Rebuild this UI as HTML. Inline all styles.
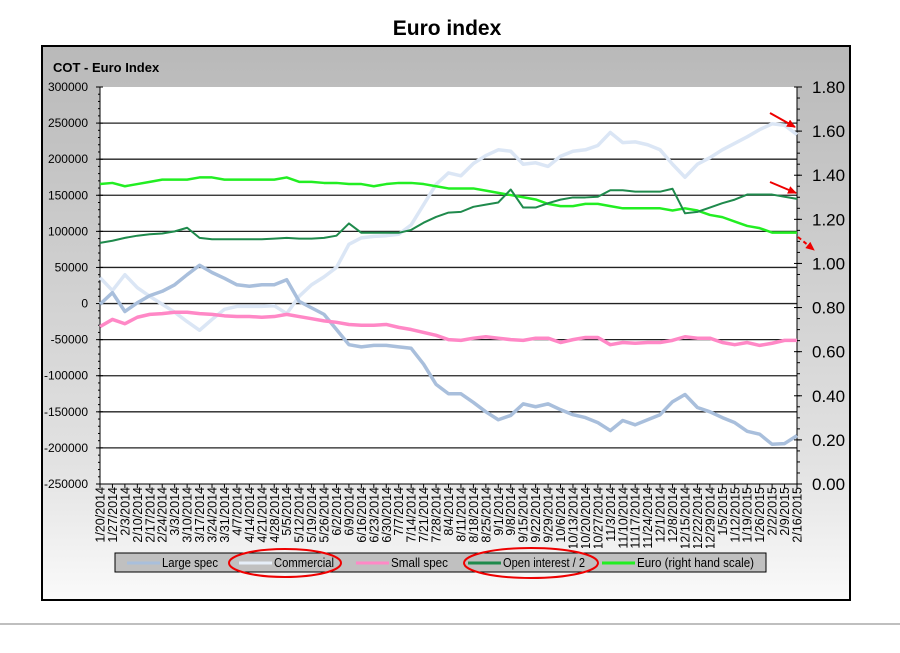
<!DOCTYPE html>
<html><head><meta charset="utf-8"><style>
html,body{margin:0;padding:0;background:#fff;width:900px;height:653px;overflow:hidden;font-family:"Liberation Sans",sans-serif;}
</style></head><body>
<svg id="chart" width="900" height="653" xmlns="http://www.w3.org/2000/svg" style="position:absolute;left:0;top:0">
<defs>
<linearGradient id="bg" x1="0" y1="0" x2="0" y2="1"><stop offset="0" stop-color="#b9b9b9"/><stop offset="0.75" stop-color="#e2e2e2"/><stop offset="1" stop-color="#fafafa"/></linearGradient>
<clipPath id="lblclip"><rect x="90" y="486" width="720" height="62"/></clipPath>
<marker id="ah" markerUnits="userSpaceOnUse" markerWidth="9" markerHeight="8" refX="8" refY="4" orient="auto"><path d="M0,0 L9,4 L0,8 z" fill="#e00"/></marker>
</defs>
<text x="447" y="35" text-anchor="middle" font-size="21" font-weight="bold" fill="#000">Euro index</text>
<rect x="42" y="46" width="808" height="554" fill="url(#bg)" stroke="#000" stroke-width="2"/>
<text x="53" y="72" font-size="13" font-weight="bold" fill="#000">COT - Euro Index</text>
<rect x="100" y="87" width="697" height="397" fill="#fff"/>
<g id="grid"></g><g id="axes"></g><g id="series"></g><g id="xlabels" clip-path="url(#lblclip)"></g>
<g>
<rect x="115" y="553" width="651" height="19" fill="#c0c0c0" stroke="#000" stroke-width="1"/>
<g id="legend"></g>
</g>
<g stroke="#e00" fill="none" stroke-width="2">
<line x1="770" y1="113" x2="795" y2="127" marker-end="url(#ah)"/>
<line x1="770" y1="182" x2="796" y2="193" marker-end="url(#ah)"/>
<line x1="798" y1="237" x2="814" y2="250" stroke-dasharray="4,3" marker-end="url(#ah)"/>
<ellipse cx="285" cy="563" rx="56" ry="14"/>
<ellipse cx="531" cy="563" rx="67" ry="15"/>
</g>
<line x1="0" y1="624" x2="900" y2="624" stroke="#aaa" stroke-width="1.5"/>
</svg>
<script>
const dates=["1/20/2014","1/27/2014","2/3/2014","2/10/2014","2/17/2014","2/24/2014","3/3/2014","3/10/2014","3/17/2014","3/24/2014","3/31/2014","4/7/2014","4/14/2014","4/21/2014","4/28/2014","5/5/2014","5/12/2014","5/19/2014","5/26/2014","6/2/2014","6/9/2014","6/16/2014","6/23/2014","6/30/2014","7/7/2014","7/14/2014","7/21/2014","7/28/2014","8/4/2014","8/11/2014","8/18/2014","8/25/2014","9/1/2014","9/8/2014","9/15/2014","9/22/2014","9/29/2014","10/6/2014","10/13/2014","10/20/2014","10/27/2014","11/3/2014","11/10/2014","11/17/2014","11/24/2014","12/1/2014","12/8/2014","12/15/2014","12/22/2014","12/29/2014","1/5/2015","1/12/2015","1/19/2015","1/26/2015","2/2/2015","2/9/2015","2/16/2015"];
const leftTicks=[300000,250000,200000,150000,100000,50000,0,-50000,-100000,-150000,-200000,-250000];
const rightTicks=["1.80","1.60","1.40","1.20","1.00","0.80","0.60","0.40","0.20","0.00"];
const largeSpec=[-1000,15000,-11000,1000,11000,17000,26000,40000,53000,43000,35000,26000,24000,26000,26000,33000,3000,-6000,-15000,-36000,-57000,-60000,-58000,-58000,-60000,-62000,-84000,-112000,-125000,-125000,-137000,-150000,-161000,-155000,-139000,-143000,-139000,-147000,-154000,-158000,-165000,-176000,-162000,-168000,-161000,-154000,-136000,-126000,-144000,-150000,-158000,-165000,-177000,-181000,-195000,-194000,-183000];
const commercial=[36000,18000,40000,22000,10000,-1000,-12000,-25000,-37000,-22000,-8000,-4000,-4000,-4000,-3000,-14000,10000,26000,37000,50000,82000,91000,93000,94000,96000,109000,137000,165000,181000,177000,194000,205000,213000,211000,193000,195000,190000,204000,211000,213000,219000,237000,223000,224000,220000,213000,193000,175000,193000,202000,213000,222000,231000,241000,249000,247000,234000];
const smallSpec=[-32000,-22000,-28000,-19000,-15000,-14000,-12000,-12000,-14000,-15000,-17000,-18000,-18000,-19000,-18000,-15000,-18000,-21000,-24000,-26000,-29000,-30000,-30000,-29000,-33000,-36000,-40000,-44000,-50000,-51000,-48000,-46000,-48000,-50000,-51000,-48000,-48000,-54000,-50000,-47000,-47000,-57000,-54000,-55000,-54000,-54000,-51000,-46000,-48000,-48000,-54000,-57000,-54000,-58000,-55000,-51000,-51000];
const openInterest=[84000,87000,91000,94000,96000,97000,100000,105000,91000,89000,89000,89000,89000,89000,90000,91000,90000,90000,91000,94000,111000,98000,98000,98000,98000,102000,112000,120000,126000,127000,134000,137000,140000,158000,133000,133000,139000,144000,147000,147000,148000,157000,157000,155000,155000,155000,159000,125000,127000,133000,139000,144000,151000,151000,151000,148000,145000];
const euro=[1.36,1.365,1.35,1.36,1.37,1.38,1.38,1.38,1.39,1.39,1.38,1.38,1.38,1.38,1.38,1.39,1.37,1.37,1.365,1.365,1.36,1.36,1.35,1.36,1.365,1.365,1.36,1.35,1.34,1.34,1.34,1.33,1.32,1.31,1.30,1.29,1.27,1.26,1.26,1.27,1.27,1.26,1.25,1.25,1.25,1.25,1.24,1.25,1.24,1.22,1.21,1.19,1.17,1.16,1.14,1.14,1.14];

const NS="http://www.w3.org/2000/svg";
const PL=100,PR=797,PT=87,PB=484;
function x(i){return PL+i*(PR-PL)/(dates.length-1);}
function yL(v){return PT+(300000-v)*(PB-PT)/550000;}
function yR(v){return PT+(1.8-v)*(PB-PT)/1.8;}
function mk(tag,attrs,parent){const e=document.createElementNS(NS,tag);for(const k in attrs)e.setAttribute(k,attrs[k]);document.getElementById(parent).appendChild(e);return e;}

leftTicks.forEach(v=>{
  const yy=yL(v);
  if(v!==300000&&v!==-250000){const g=mk('line',{x1:PL,x2:PR,y1:yy,y2:yy,stroke:'#222','stroke-width':1.3},'grid');
  
  }
  const t=mk('text',{x:88,y:yy+4,'text-anchor':'end','font-size':12,fill:'#000'},'axes');
  t.textContent=v;
  
  
  mk('line',{x1:PL-4,x2:PL+3,y1:yy,y2:yy,stroke:'#000'},'axes');
});
for(let k=0;k<55;k++){const yy=PT+k*(PB-PT)/55;mk('line',{x1:PL-2,x2:PL,y1:yy,y2:yy,stroke:'#000'},'axes');}
mk('line',{x1:PL,x2:PL,y1:PT,y2:PB,stroke:'#000'},'axes');
mk('line',{x1:PR,x2:PR,y1:PT,y2:PB,stroke:'#000'},'axes');
mk('line',{x1:PL,x2:PR,y1:PB,y2:PB,stroke:'#000'},'axes');
rightTicks.forEach(s=>{
  const yy=yR(parseFloat(s));
  const t=mk('text',{x:812,y:yy+6,'font-size':17,fill:'#000'},'axes');
  t.textContent=s;
  
  
  mk('line',{x1:PR-3,x2:PR+5,y1:yy,y2:yy,stroke:'#000'},'axes');
});
for(let k=0;k<36;k++){const yy=PT+k*(PB-PT)/36;mk('line',{x1:PR,x2:PR+3,y1:yy,y2:yy,stroke:'#000'},'axes');}
dates.forEach((d,i)=>{
  const xx=x(i);
  mk('line',{x1:xx,x2:xx,y1:PB,y2:PB+4,stroke:'#000'},'axes');
  const t=mk('text',{x:0,y:0,'font-size':12.5,fill:'#000','text-anchor':'end',transform:`translate(${xx+4.5},${PB+3}) rotate(-90)`},'xlabels');
  t.textContent=d;
  
  
});
function line(vals,fy,color,w,name){
  const p=mk('polyline',{points:vals.map((v,i)=>x(i)+','+fy(v)).join(' '),fill:'none',stroke:color,'stroke-width':w,'stroke-linejoin':'round'},'series');
  
  
}
line(commercial,yL,'#dbe6f5',3.5,'commercial-line');
line(largeSpec,yL,'#a9bfdc',3.5,'large-spec-line');
line(smallSpec,yL,'#ff88c6',3.5,'small-spec-line');
line(euro,yR,'#22ee22',2.5,'euro-line');
line(openInterest,yL,'#1f8a4c',2,'open-interest-line');
const legNames=["Large spec","Commercial","Small spec","Open interest / 2","Euro (right hand scale)"];
const legColors=["#a9bfdc","#e6eef8","#ff88c6","#1f8a4c","#22ee22"];
const legX=[127,239,356,468,602];
const legW=[56,60,57,82,117];
legNames.forEach((n,i)=>{
  const s=mk('line',{x1:legX[i],x2:legX[i]+33,y1:563,y2:563,stroke:legColors[i],'stroke-width':3},'legend');
  
  
  const t=mk('text',{x:legX[i]+35,y:567,'font-size':12.5,fill:'#000',textLength:legW[i],lengthAdjust:'spacingAndGlyphs'},'legend');
  t.textContent=n;
  
  
});
</script>
</body></html>
